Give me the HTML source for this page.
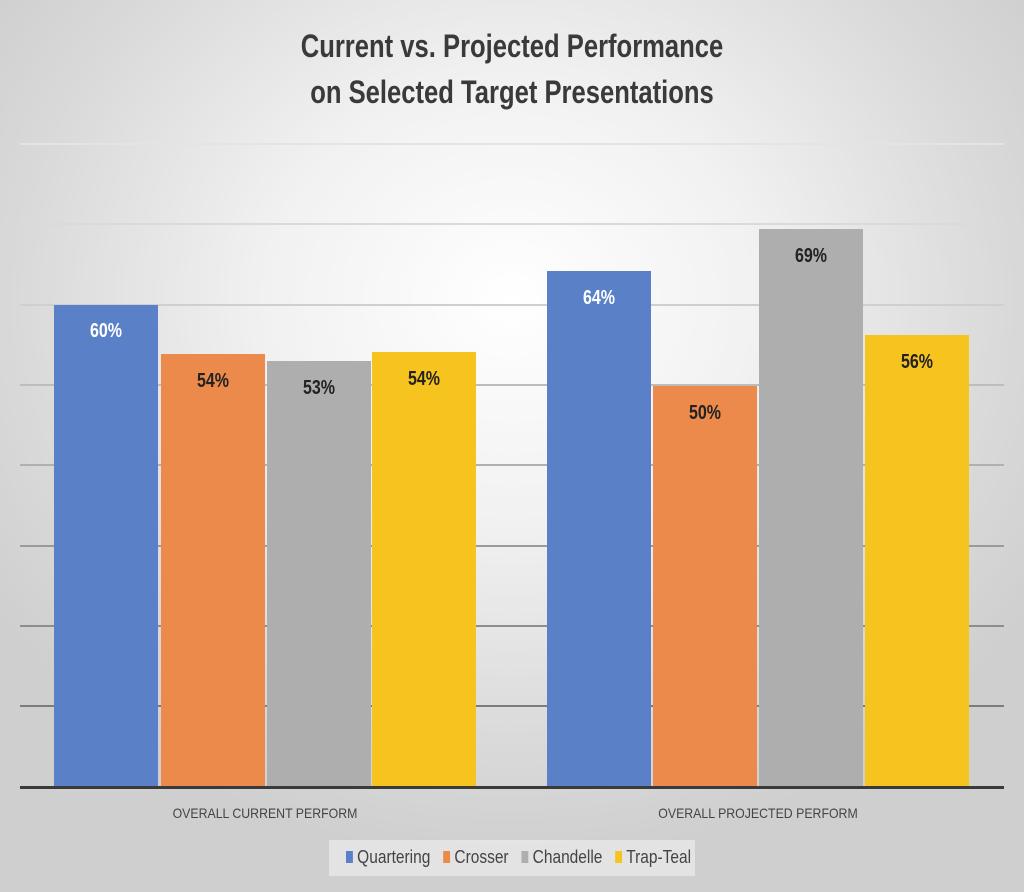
<!DOCTYPE html>
<html><head><meta charset="utf-8"><style>
html,body{margin:0;padding:0}
body{width:1024px;height:892px;position:relative;overflow:hidden;
background:radial-gradient(ellipse 620px 560px at 512px 300px,#ffffff 0%,#f1f1f1 40%,#d9d9d9 80%,#cfcfcf 100%);
font-family:"Liberation Sans",sans-serif}
.t{position:absolute;left:0;width:1024px;text-align:center;font-weight:bold;font-size:32px;color:#3a3a3a;transform:scaleX(0.8);transform-origin:512px 0}
.g{position:absolute;left:20px;width:984px;height:2px;background:#cfcfcf}
.l{position:absolute;width:104px;text-align:center;font-weight:bold;font-size:20px;transform:scaleX(0.8)}
.ax{position:absolute;font-size:14px;color:#444;width:400px;text-align:center;transform:scaleX(0.88)}
.bar{position:absolute;width:104px}
</style></head><body>
<div class="t" style="top:28px">Current vs. Projected Performance</div>
<div class="t" style="top:74px">on Selected Target Presentations</div>
<div class="g" style="top:143px;background:#e4e4e4"></div>
<div class="g" style="top:223px;background:#dadada"></div>
<div class="g" style="top:304px"></div>
<div class="g" style="top:384px;background:#bdbdbd"></div>
<div class="g" style="top:464px;background:#b0b0b0"></div>
<div class="g" style="top:545px;background:#9a9a9a"></div>
<div class="g" style="top:625px;background:#8d8d8d"></div>
<div class="g" style="top:705px;background:#7c7c7c"></div>

<div class="bar" style="left:54px;top:305px;height:482px;background:#5a80c8"></div>
<div class="bar" style="left:161px;top:354px;height:433px;background:#ec8a4b"></div>
<div class="bar" style="left:267px;top:361px;height:426px;background:#aeaeae"></div>
<div class="bar" style="left:372px;top:352px;height:435px;background:#f7c31f"></div>
<div class="bar" style="left:547px;top:271px;height:516px;background:#5a80c8"></div>
<div class="bar" style="left:653px;top:386px;height:401px;background:#ec8a4b"></div>
<div class="bar" style="left:759px;top:229px;height:558px;background:#aeaeae"></div>
<div class="bar" style="left:865px;top:335px;height:452px;background:#f7c31f"></div>

<div class="l" style="left:54px;top:320px;color:#fff">60%</div>
<div class="l" style="left:161px;top:370px;color:#222">54%</div>
<div class="l" style="left:267px;top:377px;color:#222">53%</div>
<div class="l" style="left:372px;top:368px;color:#222">54%</div>
<div class="l" style="left:547px;top:287px;color:#fff">64%</div>
<div class="l" style="left:653px;top:402px;color:#222">50%</div>
<div class="l" style="left:759px;top:245px;color:#222">69%</div>
<div class="l" style="left:865px;top:351px;color:#222">56%</div>

<div style="position:absolute;left:20px;top:786px;width:984px;height:3px;background:#3a3a3a"></div>
<div class="ax" style="left:65px;top:805px">OVERALL CURRENT PERFORM</div>
<div class="ax" style="left:558px;top:805px">OVERALL PROJECTED PERFORM</div>

<div style="position:absolute;left:329px;top:840px;width:366px;height:36px;background:rgba(240,240,240,0.6)"></div>
<div style="position:absolute;left:346px;top:847px;font-size:18px;color:#444;white-space:nowrap;transform:scaleX(0.86);transform-origin:0 0">
<span style="display:inline-block;width:8px;height:12px;background:#5a80c8"></span> Quartering &nbsp;&nbsp;<span style="display:inline-block;width:8px;height:12px;background:#ec8a4b"></span> Crosser &nbsp;&nbsp;<span style="display:inline-block;width:8px;height:12px;background:#aeaeae"></span> Chandelle &nbsp;&nbsp;<span style="display:inline-block;width:8px;height:12px;background:#f7c31f"></span> Trap-Teal
</div>
</body></html>
